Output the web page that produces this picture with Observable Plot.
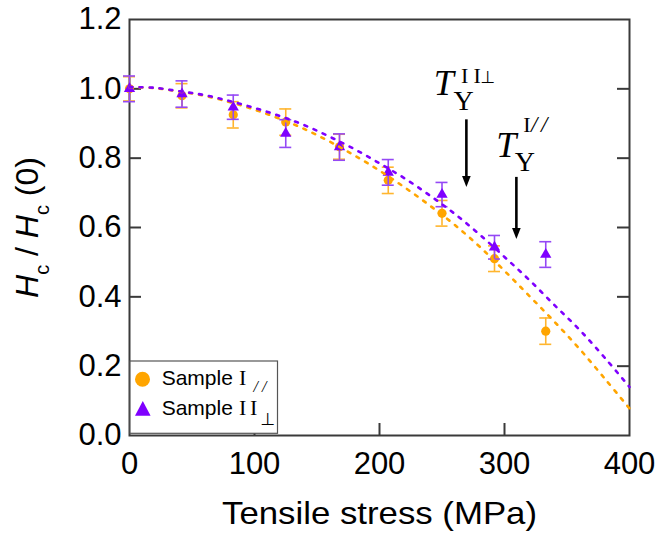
<!DOCTYPE html>
<html><head><meta charset="utf-8">
<script src="https://cdn.jsdelivr.net/npm/d3@7"></script>
<script src="https://cdn.jsdelivr.net/npm/@observablehq/plot@0.6"></script>
<style>
html,body{margin:0;padding:0;background:#fff;}
#wrap{position:relative;width:659px;height:536px;overflow:hidden;}
</style></head><body><div id="wrap"></div>
<script>
// ---------- data ----------
const stress = [0, 42, 83, 125, 168, 207, 250, 292, 333];
const sampleI = [1.00, 0.98, 0.925, 0.904, 0.833, 0.736, 0.641, 0.510, 0.301];
const sampleIErr = [0.035, 0.035, 0.038, 0.038, 0.036, 0.038, 0.037, 0.037, 0.038];
const sampleII = [1.00, 0.985, 0.947, 0.871, 0.832, 0.759, 0.695, 0.543, 0.522];
const sampleIIErr = [0.037, 0.038, 0.035, 0.040, 0.038, 0.037, 0.035, 0.034, 0.037];
const fitStress = [0, 20, 40, 60, 80, 100, 120, 140, 160, 180, 200, 220, 240, 260, 280, 300, 320, 340, 360, 380, 400];
const fitI  = [1.005, 1.002, 0.992, 0.980, 0.962, 0.940, 0.914, 0.884, 0.848, 0.808, 0.764, 0.716, 0.664, 0.608, 0.545, 0.475, 0.402, 0.328, 0.250, 0.165, 0.078];
const fitII = [1.005, 1.003, 0.993, 0.982, 0.965, 0.945, 0.922, 0.895, 0.862, 0.826, 0.785, 0.742, 0.693, 0.640, 0.580, 0.515, 0.448, 0.376, 0.305, 0.225, 0.140];
const xTicks = [0, 100, 200, 300, 400];
const yTicks = [0, 0.2, 0.4, 0.6, 0.8, 1.0, 1.2];
const arrowX = [269.5, 309.5];      // MPa
const arrowFrom = [0.899, 0.733];
const arrowTo = [0.717, 0.567];
const labelY = [0.981, 0.803];
const xTitle = "Tensile stress (MPa)";
const legendNames = ["Sample ", "Sample "];

// ---------- styles ----------
const orange = "#FFA500", purple = "#7F00FF";
const orangeBar = "#FFB52E", purpleBar = "#9448F5";
const sans = "'Liberation Sans', Arial, sans-serif";
const serif = "'Liberation Serif', 'Times New Roman', serif";
const axisColor = "#3a3a3a";

const rowsI = stress.map((x, i) => ({x, y: sampleI[i], e: sampleIErr[i]}));
const rowsII = stress.map((x, i) => ({x, y: sampleII[i], e: sampleIIErr[i]}));
const fitRowsI = fitStress.map((x, i) => ({x, y: fitI[i]}));
const fitRowsII = fitStress.map((x, i) => ({x, y: fitII[i]}));
const ann = [0, 1];

const arrowHead = {
  draw(ctx) { ctx.moveTo(0, 0); ctx.lineTo(-4.3, -11); ctx.lineTo(4.3, -11); ctx.closePath(); }
};

function errMarks(rows, color) {
  return [
    Plot.ruleX(rows, {x: "x", y1: d => d.y - d.e, y2: d => d.y + d.e, stroke: color, strokeWidth: 1.6}),
    Plot.ruleY(rows, {y: d => d.y - d.e, x1: "x", x2: "x", insetLeft: -6, insetRight: -6, stroke: color, strokeWidth: 1.6}),
    Plot.ruleY(rows, {y: d => d.y + d.e, x1: "x", x2: "x", insetLeft: -6, insetRight: -6, stroke: color, strokeWidth: 1.6})
  ];
}

const plot = Plot.plot({
  width: 659, height: 536,
  marginLeft: 129, marginRight: 30, marginTop: 19, marginBottom: 101,
  x: {domain: [0, 400]},
  y: {domain: [0, 1.2]},
  style: {fontFamily: sans, fontSize: "31px", background: "#fff", color: "#000"},
  marks: [
    Plot.axisX({ticks: xTicks, tickSize: 0, tickPadding: 16, label: null, fontSize: 31}),
    Plot.axisY({ticks: yTicks, tickSize: 0, tickPadding: 8, tickFormat: d3.format(".1f"), label: null, fontSize: 31}),
    Plot.ruleX(xTicks.slice(1, -1), {insetTop: 404, stroke: axisColor, strokeWidth: 2}),
    Plot.ruleY(yTicks.slice(1, -1), {insetRight: 488, stroke: axisColor, strokeWidth: 2}),
    Plot.ruleY(yTicks.slice(1, -1), {insetLeft: 488, stroke: axisColor, strokeWidth: 2}),
    Plot.frame({stroke: axisColor, strokeWidth: 2}),
    ...errMarks(rowsI, orangeBar),
    Plot.dot(rowsI, {x: "x", y: "y", r: 4.6, fill: orange, symbol: "circle"}),
    ...errMarks(rowsII, purpleBar),
    Plot.dot(rowsII, {x: "x", y: "y", r: 4.2, fill: purple, symbol: "triangle"}),
    Plot.line(fitRowsI, {x: "x", y: "y", stroke: orange, strokeWidth: 2.6, strokeDasharray: "3 7", curve: "catmull-rom"}),
    Plot.line(fitRowsII, {x: "x", y: "y", stroke: purple, strokeWidth: 2.6, strokeDasharray: "3 7", curve: "catmull-rom"}),
    Plot.ruleX(ann, {x: i => arrowX[i], y1: i => arrowFrom[i], y2: i => arrowTo[i], stroke: "#000", strokeWidth: 2.6, dy: -4}),
    Plot.dot(ann, {x: i => arrowX[i], y: i => arrowTo[i], symbol: arrowHead, fill: "#000", stroke: "none"}),
    Plot.text(ann, {x: i => arrowX[i], y: i => labelY[i], text: i => "ANN" + i, textAnchor: "start", lineAnchor: "bottom", fontFamily: serif, fontSize: 36}),
    Plot.text([0], {frameAnchor: "bottom", text: () => xTitle, textAnchor: "middle", lineAnchor: "bottom", dy: 88, fontSize: 32}),
    Plot.text([0], {frameAnchor: "left", text: () => "YTITLE", rotate: -90, textAnchor: "middle", lineAnchor: "bottom", dx: -92, fontSize: 32})
  ]
});
document.getElementById("wrap").appendChild(plot);

// ---------- rich text helpers ----------
const NS = "http://www.w3.org/2000/svg";
function num(v) { return (v == null || /em$/.test(v)) ? 0 : parseFloat(v) || 0; }
function rich(el, parts, absolute) {
  const bx = num(el.getAttribute("x")), by = num(el.getAttribute("y"));
  el.textContent = "";
  el.removeAttribute("y");
  for (const p of parts) {
    const ts = document.createElementNS(NS, "tspan");
    ts.textContent = p.t;
    if (absolute) { ts.setAttribute("x", bx + p.x); ts.setAttribute("y", by + p.y); }
    else if (p.dy) ts.setAttribute("dy", p.dy);
    if (p.style) ts.setAttribute("font-style", p.style);
    if (p.size) ts.setAttribute("font-size", p.size);
    if (p.family) ts.setAttribute("font-family", p.family);
    el.appendChild(ts);
  }
}
const texts = [...plot.querySelectorAll("text")];
const find = s => texts.find(t => t.textContent === s);

rich(find("YTITLE"), [
  {t: "H", style: "italic"},
  {t: "c", size: 20, dy: 11},
  {t: " / ", dy: -11},
  {t: "H", style: "italic"},
  {t: "c", size: 20, dy: 11},
  {t: " (0)", dy: -11}
], false);

const perp = "'DejaVu Sans', sans-serif";
rich(find("ANN0"), [
  {t: "T", x: -32.7, y: 0, style: "italic", size: 36},
  {t: "Y", x: -13, y: 15, size: 28},
  {t: "I", x: -5.5, y: -12.5, size: 22},
  {t: "I", x: 7.2, y: -12.5, size: 22},
  {t: "\u22A5", x: 14, y: -12.5, size: 17, family: perp}
], true);
rich(find("ANN1"), [
  {t: "T", x: -20.1, y: 0, style: "italic", size: 36},
  {t: "Y", x: -1.6, y: 14, size: 28},
  {t: "I", x: 6.8, y: -25, size: 22},
  {t: "/", x: 14.5, y: -25, size: 23, style: "italic"},
  {t: "/", x: 24.5, y: -25, size: 23, style: "italic"}
], true);

const xt = find(xTitle);
xt.setAttribute("textLength", 315);
xt.setAttribute("lengthAdjust", "spacingAndGlyphs");

// ---------- legend (inside plot, bottom-left) ----------
const lg = d3.create("svg").attr("width", 150).attr("height", 75)
  .style("position", "absolute").style("left", "129px").style("top", "360px");
lg.append("rect").attr("x", 1).attr("y", 1).attr("width", 147.5).attr("height", 72.3)
  .attr("fill", "#fff").attr("stroke", "#555").attr("stroke-width", 1.2);
lg.append("circle").attr("cx", 13.5).attr("cy", 19.2).attr("r", 7.5).attr("fill", orange);
lg.append("path").attr("d", "M13.8,41L21.6,55.7L6,55.7Z").attr("fill", purple);
const t1 = lg.append("text").attr("font-family", sans).attr("font-size", 21).attr("fill", "#000");
t1.append("tspan").attr("x", 32.7).attr("y", 25).text(legendNames[0]);
t1.append("tspan").attr("x", 110).attr("y", 25).attr("font-family", serif).attr("font-size", 22).text("I");
t1.append("tspan").attr("x", 124.5).attr("y", 32).attr("font-family", serif).attr("font-size", 16).attr("font-style", "italic").text("/");
t1.append("tspan").attr("x", 133).attr("y", 32).attr("font-family", serif).attr("font-size", 16).attr("font-style", "italic").text("/");
const t2 = lg.append("text").attr("font-family", sans).attr("font-size", 21).attr("fill", "#000");
t2.append("tspan").attr("x", 32.7).attr("y", 55).text(legendNames[1]);
t2.append("tspan").attr("x", 110).attr("y", 55).attr("font-family", serif).attr("font-size", 22).text("I");
t2.append("tspan").attr("x", 121).attr("y", 55).attr("font-family", serif).attr("font-size", 22).text("I");
t2.append("tspan").attr("x", 131.5).attr("y", 64.5).attr("font-family", perp).attr("font-size", 17).text("\u22A5");
document.getElementById("wrap").appendChild(lg.node());
</script>
</body></html>
